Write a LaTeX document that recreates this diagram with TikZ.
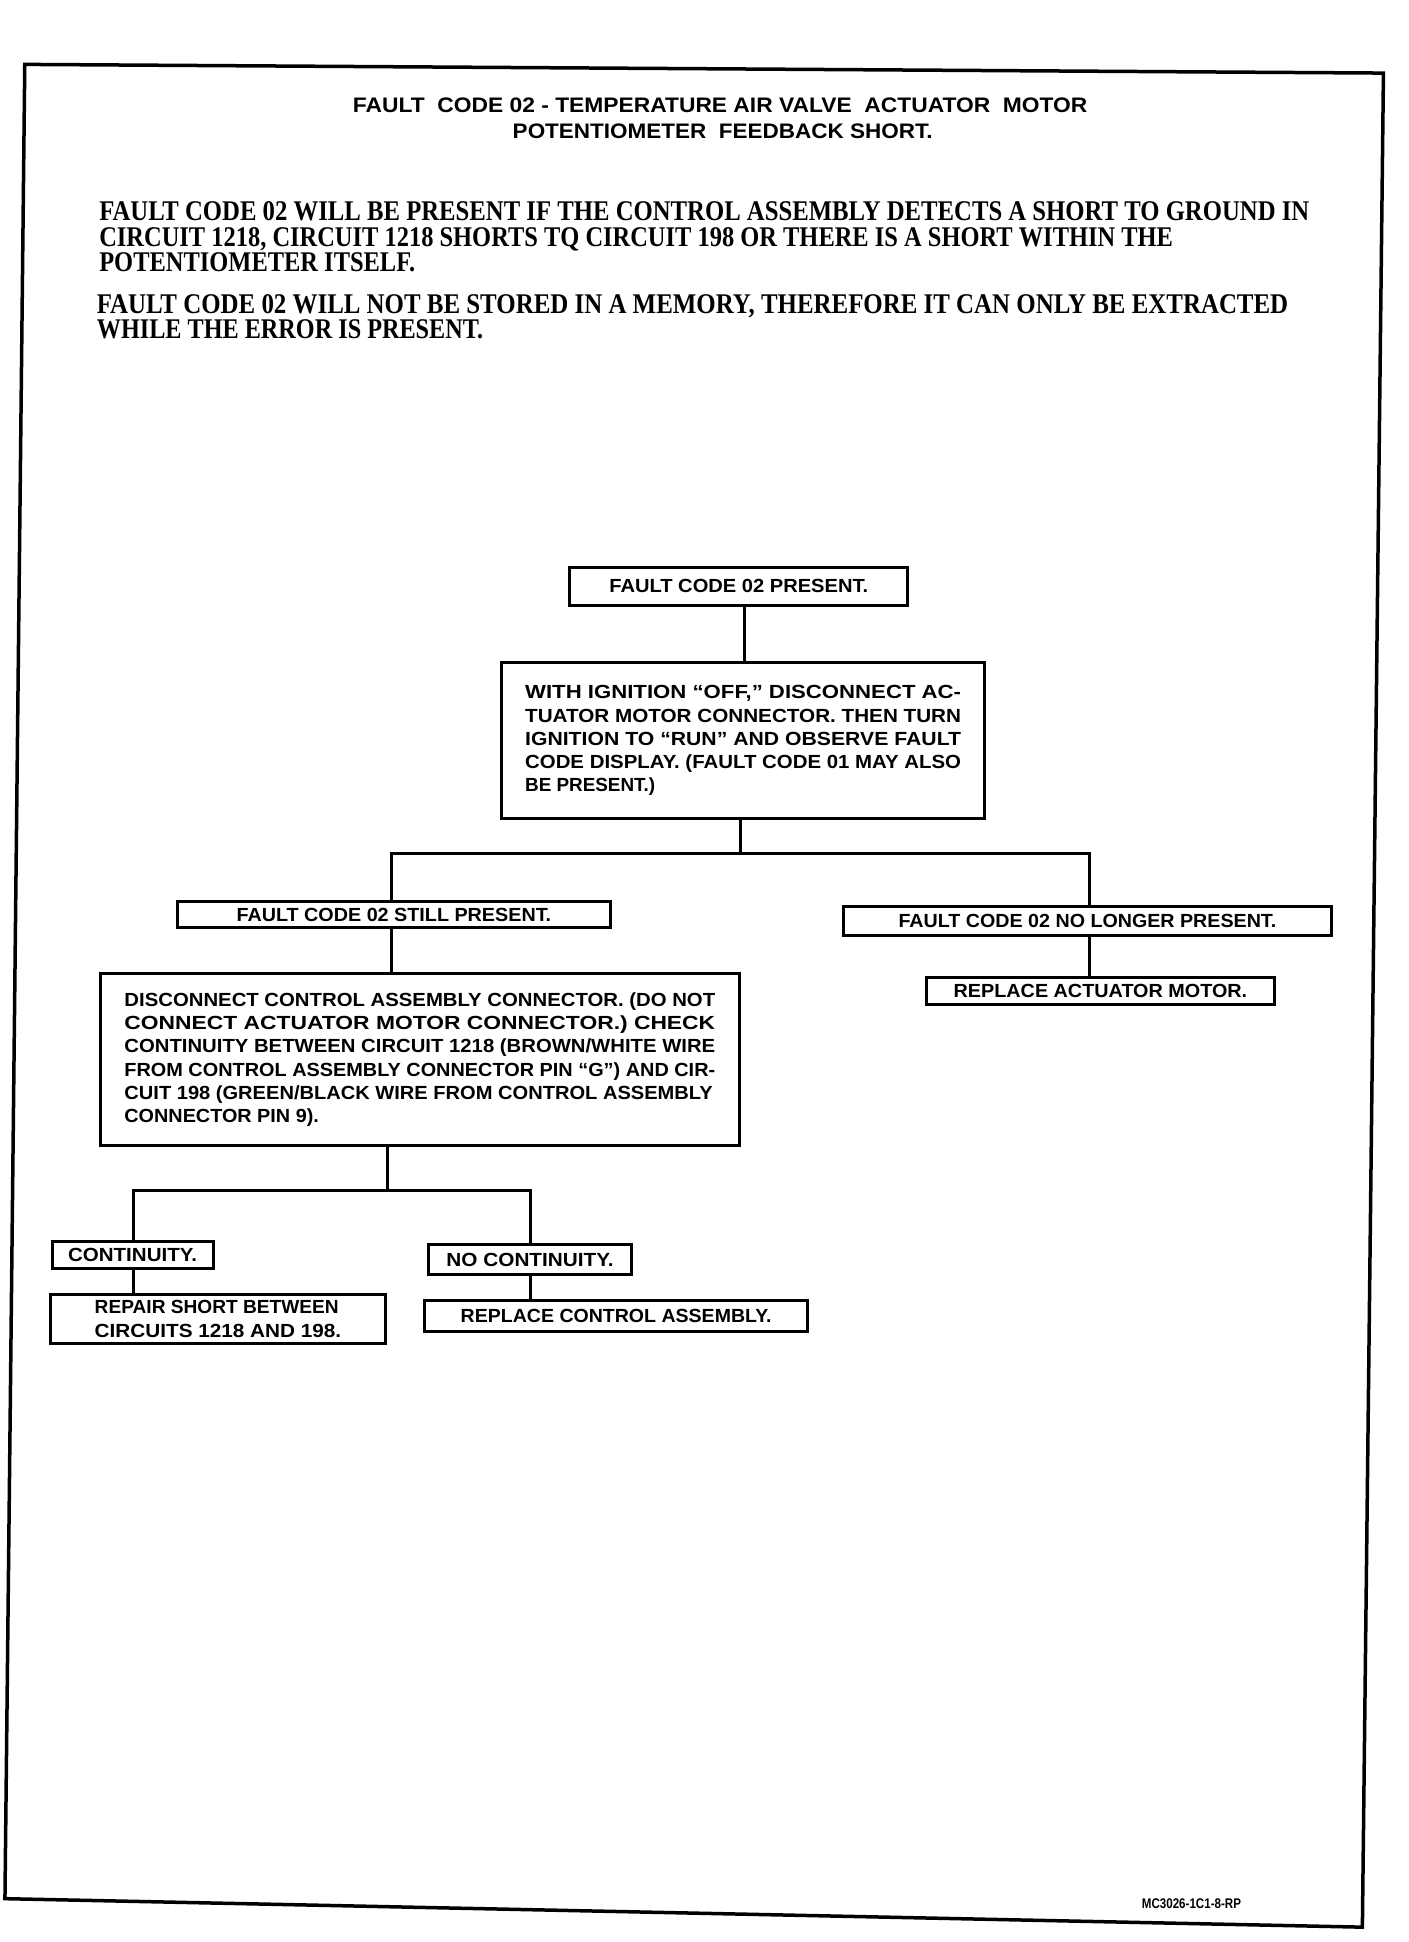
\documentclass[tikz,border=0pt]{standalone}
\usepackage{fontspec}
\setmainfont{Liberation Sans}
\newfontfamily\serifp{Liberation Serif}
\usepackage{graphicx}
\newlength\unitpx \setlength\unitpx{1.2383pt}
\newcommand\fl[2]{\resizebox{#1\unitpx}{\height}{#2}}
\newcommand\boxfont{\fontsize{19}{23.2}\selectfont\bfseries}
\begin{document}
\begin{tikzpicture}[x=1.2383pt,y=-1.2383pt, line join=miter,
  titletext/.style={inner sep=0pt, font=\fontsize{21}{24}\selectfont\bfseries},
  para/.style={inner sep=0pt, anchor=base west, font=\serifp\fontsize{28.5}{30}\selectfont\bfseries},
  fbox/.style 2 args={draw, line width=3pt, inner sep=0pt, align=left, font=\boxfont,
     minimum width=#1*1.2383pt, minimum height=#2*1.2383pt},
  conn/.style={line width=3pt}]
\useasboundingbox (0,0) rectangle (1137,1568);
% outer frame
\draw[line width=3.5pt] (20,52) -- (1117,59) -- (1100,1556) -- (4,1533) -- cycle;
% title
\node[titletext] (t1) at (581.5,85) {\fl{593}{FAULT\ \ CODE 02 - TEMPERATURE AIR VALVE\ \ ACTUATOR\ \ MOTOR}};
\node[titletext] (t2) at (583.5,106) {\fl{339}{POTENTIOMETER\ \ FEEDBACK SHORT.}};
% paragraphs
\node[para] (p1) at (80,178) {\fl{977}{FAULT CODE 02 WILL BE PRESENT IF THE CONTROL ASSEMBLY DETECTS A SHORT TO GROUND IN}};
\node[para] (p2) at (80,199) {\fl{867}{CIRCUIT 1218, CIRCUIT 1218 SHORTS TQ CIRCUIT 198 OR THERE IS A SHORT WITHIN THE}};
\node[para] (p3) at (80,219) {\fl{255}{POTENTIOMETER ITSELF.}};
\node[para] (p4) at (78,253) {\fl{962}{FAULT CODE 02 WILL NOT BE STORED IN A MEMORY, THEREFORE IT CAN ONLY BE EXTRACTED}};
\node[para] (p5) at (78,273) {\fl{312}{WHILE THE ERROR IS PRESENT.}};
% boxes
\node[fbox={273}{31}] (b1) at (596.5,473.5) {\fl{209}{FAULT CODE 02 PRESENT.}};
\node[fbox={390}{126}] (b2) at (600,598) {%
  \fl{352}{WITH IGNITION “OFF,” DISCONNECT AC-}\\
  \fl{352}{TUATOR MOTOR CONNECTOR. THEN TURN}\\
  \fl{352}{IGNITION TO “RUN” AND OBSERVE FAULT}\\
  \fl{352}{CODE DISPLAY. (FAULT CODE 01 MAY ALSO}\\
  \fl{105}{BE PRESENT.)}};
\node[fbox={350}{21}] (b3) at (318,738.5) {\fl{254}{FAULT CODE 02 STILL PRESENT.}};
\node[fbox={394}{23}] (b4) at (878,743.5) {\fl{305}{FAULT CODE 02 NO LONGER PRESENT.}};
\node[fbox={281}{22}] (b6) at (888.5,800) {\fl{237}{REPLACE ACTUATOR MOTOR.}};
\node[fbox={516}{139}] (b5) at (339,855.5) {%
  \fl{477}{DISCONNECT CONTROL ASSEMBLY CONNECTOR. (DO NOT}\\
  \fl{477}{CONNECT ACTUATOR MOTOR CONNECTOR.) CHECK}\\
  \fl{477}{CONTINUITY BETWEEN CIRCUIT 1218 (BROWN/WHITE WIRE}\\
  \fl{477}{FROM CONTROL ASSEMBLY CONNECTOR PIN “G”) AND CIR-}\\
  \fl{475}{CUIT 198 (GREEN/BLACK WIRE FROM CONTROL ASSEMBLY}\\
  \fl{157}{CONNECTOR PIN 9).}};
\node[fbox={130}{22}] (b7) at (107,1013) {\fl{104}{CONTINUITY.}};
\node[fbox={270}{40}] (b8) at (176,1065) {%
  \fl{197}{REPAIR SHORT BETWEEN}\\
  \fl{199}{CIRCUITS 1218 AND 198.}};
\node[fbox={164}{24}] (b9) at (428,1017) {\fl{135}{NO CONTINUITY.}};
\node[fbox={309}{25}] (b10) at (497.5,1062.5) {\fl{251}{REPLACE CONTROL ASSEMBLY.}};
% footer
\node[inner sep=0pt, font=\fontsize{14}{14}\selectfont\bfseries] (ft) at (962,1537) {\fl{80}{MC3026-1C1-8-RP}};
% connectors
\coordinate (j1) at (598,689);
\coordinate (j2) at (313,961);
\draw[conn] (b1.south -| 601,0) -- (b2.north -| 601,0);
\draw[conn] (b2.south -| j1) -- (j1);
\draw[conn] (b3.north -| 316,0) |- (j1) -| (b4.north -| 880,0);
\draw[conn] (b3.south -| 316,0) -- (b5.north -| 316,0);
\draw[conn] (b4.south -| 880,0) -- (b6.north -| 880,0);
\draw[conn] (b5.south -| j2) -- (j2);
\draw[conn] (b7.north -| 108,0) |- (j2) -| (b9.north -| 428,0);
\draw[conn] (b7.south -| 108,0) -- (b8.north -| 108,0);
\draw[conn] (b9.south -| 428,0) -- (b10.north -| 428,0);
\end{tikzpicture}
\end{document}
